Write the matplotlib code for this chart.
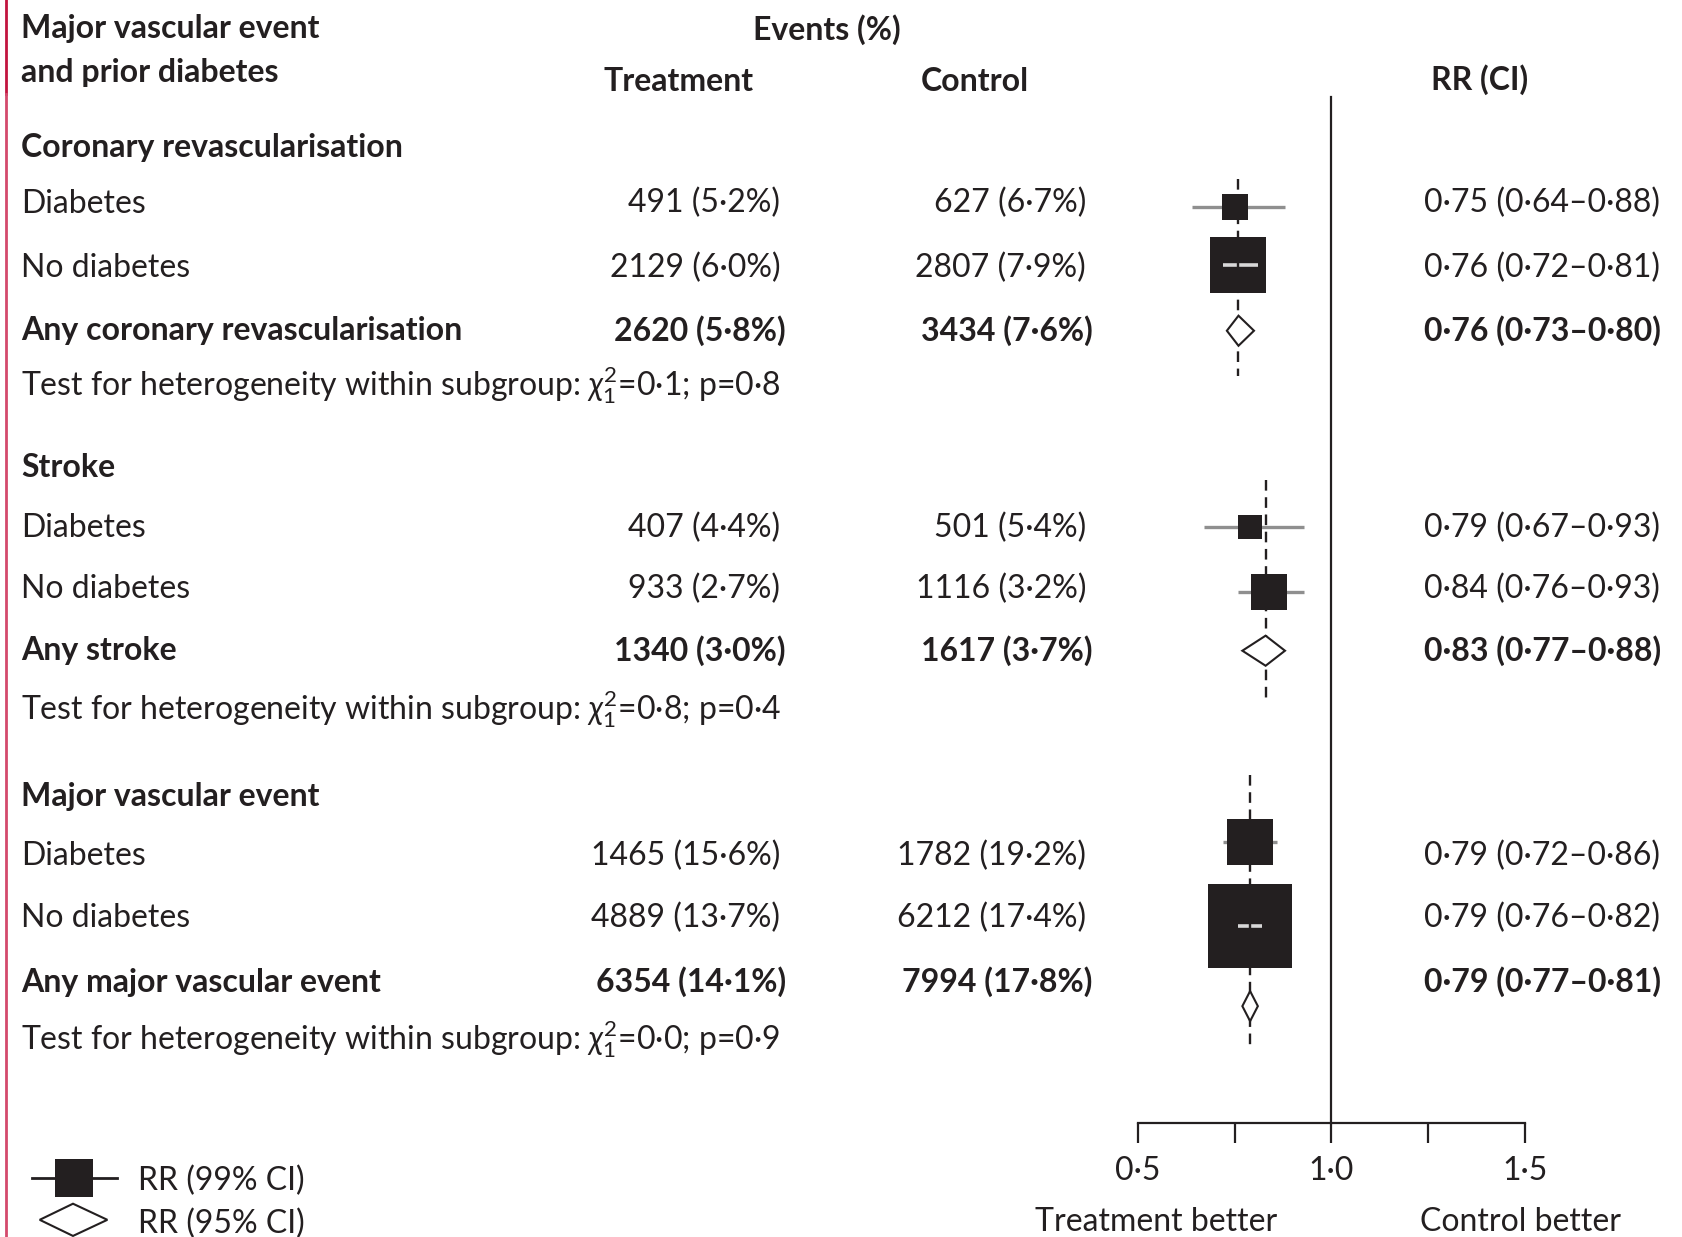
import matplotlib
matplotlib.use('Agg')
import matplotlib.pyplot as plt
import matplotlib.transforms as mtransforms
from matplotlib.patches import Polygon
from matplotlib.lines import Line2D
import numpy as np

plt.rcParams['font.family'] = ['Lato', 'DejaVu Sans']
plt.rcParams['mathtext.fontset'] = 'custom'
plt.rcParams['mathtext.rm'] = 'Lato'
plt.rcParams['mathtext.it'] = 'Lato:italic'

# ---------------- data ----------------
groups = ['Coronary revascularisation', 'Stroke', 'Major vascular event']
sub_labels = ['Diabetes', 'No diabetes']
total_labels = ['Any coronary revascularisation', 'Any stroke', 'Any major vascular event']

treat_events = [[491, 2129], [407, 933], [1465, 4889]]
treat_pct = [[5.2, 6.0], [4.4, 2.7], [15.6, 13.7]]
ctrl_events = [[627, 2807], [501, 1116], [1782, 6212]]
ctrl_pct = [[6.7, 7.9], [5.4, 3.2], [19.2, 17.4]]
rr_sub = [[0.75, 0.76], [0.79, 0.84], [0.79, 0.79]]
lo_sub = [[0.64, 0.72], [0.67, 0.76], [0.72, 0.76]]
hi_sub = [[0.88, 0.81], [0.93, 0.93], [0.86, 0.82]]

treat_total = [2620, 1340, 6354]
treat_total_pct = [5.8, 3.0, 14.1]
ctrl_total = [3434, 1617, 7994]
ctrl_total_pct = [7.6, 3.7, 17.8]
rr_total = [0.76, 0.83, 0.79]
lo_total = [0.73, 0.77, 0.77]
hi_total = [0.80, 0.88, 0.81]

het_chi2 = [0.1, 0.8, 0.0]
het_p = [0.8, 0.4, 0.9]

x_ticks = [0.5, 0.75, 1.0, 1.25, 1.5]
x_ticklabels = ['0·5', '', '1·0', '', '1·5']

# ---------------- layout (reference units 1568 x 1152) ----------------
W, H = 1568.0, 1152.0
X05_PX = 1060.0
PX_PER_UNIT = 361.0
INK = '#231f20'
FS = 23.0

head_base = [146, 444, 751]
sub_base = [[198, 258], [500, 557], [806, 863]]
tot_base = [317, 615, 924]
test_base = [368, 670, 977]
sub_mark_y = [[193, 247], [491, 551], [784, 862]]
diam_y = [308, 606, 937]
dash_span = [(167, 350), (447, 650), (722, 978)]
AXIS_Y = 1046

X_LABEL = 20
X_TREAT_R = 727
X_CTRL_R = 1012
X_RR = 1327


def dm(v):
    return ('%.1f' % v).replace('.', '·')


def d2(v):
    return ('%.2f' % v).replace('.', '·')


def dx(px):
    return 0.5 + (px - X05_PX) / PX_PER_UNIT


fig = plt.figure(figsize=(16.83, 12.37), dpi=100)
ax = fig.add_axes([0, 0, 1, 1])
ax.set_xlim(dx(0), dx(W))
ax.set_ylim(H, 0)
ax.patch.set_alpha(0)
for s in ['left', 'right', 'top']:
    ax.spines[s].set_visible(False)
ax.spines['bottom'].set_position(('data', AXIS_Y))
ax.spines['bottom'].set_bounds(0.5, 1.5)
ax.spines['bottom'].set_linewidth(1.6)
ax.spines['bottom'].set_color(INK)
ax.set_xticks(x_ticks)
ax.set_xticklabels(x_ticklabels)
ax.tick_params(axis='x', direction='out', length=14.5, width=1.6, color=INK,
               labelsize=FS, labelcolor=INK, pad=9)
ax.tick_params(axis='y', left=False, labelleft=False)

tr = mtransforms.blended_transform_factory(fig.transFigure, ax.transData)


def T(xpx, yb, s, ha='left', weight='normal', size=FS):
    ax.text(xpx / W, yb, s, ha=ha, va='baseline', fontsize=size,
            fontweight=weight, color=INK, transform=tr)


# header
T(X_LABEL, 35, 'Major vascular event', weight='bold')
T(X_LABEL, 76, 'and prior diabetes', weight='bold')
T(770, 37, 'Events (%)', ha='center', weight='bold')
T(632, 85, 'Treatment', ha='center', weight='bold')
T(908, 85, 'Control', ha='center', weight='bold')
T(1378, 84, 'RR (CI)', ha='center', weight='bold')

# reference line at RR = 1
ax.plot([1.0, 1.0], [90, AXIS_Y], color=INK, lw=1.6, zorder=1)

K_SIZE = 0.8  # box side (px at full size) per sqrt(total events)
for g in range(3):
    T(X_LABEL, head_base[g], groups[g], weight='bold')
    # dashed line at overall estimate
    ax.plot([rr_total[g], rr_total[g]], list(dash_span[g]), color=INK, lw=1.7,
            ls=(0, (4.5, 2.8)), zorder=1)
    for i in range(2):
        yb = sub_base[g][i]
        T(X_LABEL, yb, sub_labels[i])
        T(X_TREAT_R, yb, '%d (%s%%)' % (treat_events[g][i], dm(treat_pct[g][i])), ha='right')
        T(X_CTRL_R, yb, '%d (%s%%)' % (ctrl_events[g][i], dm(ctrl_pct[g][i])), ha='right')
        T(X_RR, yb, '%s (%s–%s)' % (d2(rr_sub[g][i]), d2(lo_sub[g][i]), d2(hi_sub[g][i])))
        ym = sub_mark_y[g][i]
        side_full_px = K_SIZE * np.sqrt(treat_events[g][i] + ctrl_events[g][i])
        ax.plot([lo_sub[g][i], hi_sub[g][i]], [ym, ym], color='#8f8f8f', lw=2.4,
                solid_capstyle='butt', zorder=2)
        ax.plot([rr_sub[g][i]], [ym], marker='s', ms=side_full_px * 0.72,
                mfc=INK, mec=INK, mew=0, ls='none', zorder=3)
        half_w = side_full_px / 2 * (W / 1683.0) / PX_PER_UNIT
        if (hi_sub[g][i] - lo_sub[g][i]) / 2 < half_w * 0.85:
            ax.plot([lo_sub[g][i], hi_sub[g][i]], [ym, ym], color='#d8d8d8', lw=2.6,
                    solid_capstyle='butt', zorder=4)
            ax.plot([rr_total[g], rr_total[g]], [ym - 2, ym + 2], color=INK, lw=1.7,
                    solid_capstyle='butt', zorder=5)
    yb = tot_base[g]
    T(X_LABEL, yb, total_labels[g], weight='bold')
    T(X_TREAT_R + 5, yb, '%d (%s%%)' % (treat_total[g], dm(treat_total_pct[g])), ha='right', weight='bold')
    T(X_CTRL_R + 6, yb, '%d (%s%%)' % (ctrl_total[g], dm(ctrl_total_pct[g])), ha='right', weight='bold')
    T(X_RR, yb, '%s (%s–%s)' % (d2(rr_total[g]), d2(lo_total[g]), d2(hi_total[g])), weight='bold')
    yd = diam_y[g]
    hh = 14
    ax.add_patch(Polygon([[lo_total[g], yd], [rr_total[g], yd - hh], [hi_total[g], yd],
                          [rr_total[g], yd + hh]], closed=True, fc='white', ec=INK,
                         lw=1.5, zorder=3))
    T(X_LABEL, test_base[g],
      'Test for heterogeneity within subgroup: $\\chi^2_1$=%s; p=%s' % (dm(het_chi2[g]), dm(het_p[g])))

# axis annotations
T(1077, 1146, 'Treatment better', ha='center')
T(1417, 1146, 'Control better', ha='center')

# legend
ax.plot([dx(30), dx(109)], [1097, 1097], color=INK, lw=2.0, zorder=2)
ax.plot([dx(69)], [1097], marker='s', ms=27, mfc=INK, mec=INK, mew=0, ls='none', zorder=3)
T(129, 1108, 'RR (99% CI)')
ax.add_patch(Polygon([[dx(37), 1136], [dx(68), 1121], [dx(100), 1136], [dx(68), 1151]],
                     closed=True, fc='white', ec=INK, lw=1.5, zorder=3))
T(129, 1148, 'RR (95% CI)')

# left border rule
fig.add_artist(Line2D([5.5 / W, 5.5 / W], [1 - 88 / H, 1.0], transform=fig.transFigure,
                      color='#c2143f', lw=2.0))
fig.add_artist(Line2D([5.5 / W, 5.5 / W], [0.0, 1 - 88 / H], transform=fig.transFigure,
                      color='#d44a6c', lw=2.0))

fig.savefig('out.png', dpi=100, facecolor='white')
